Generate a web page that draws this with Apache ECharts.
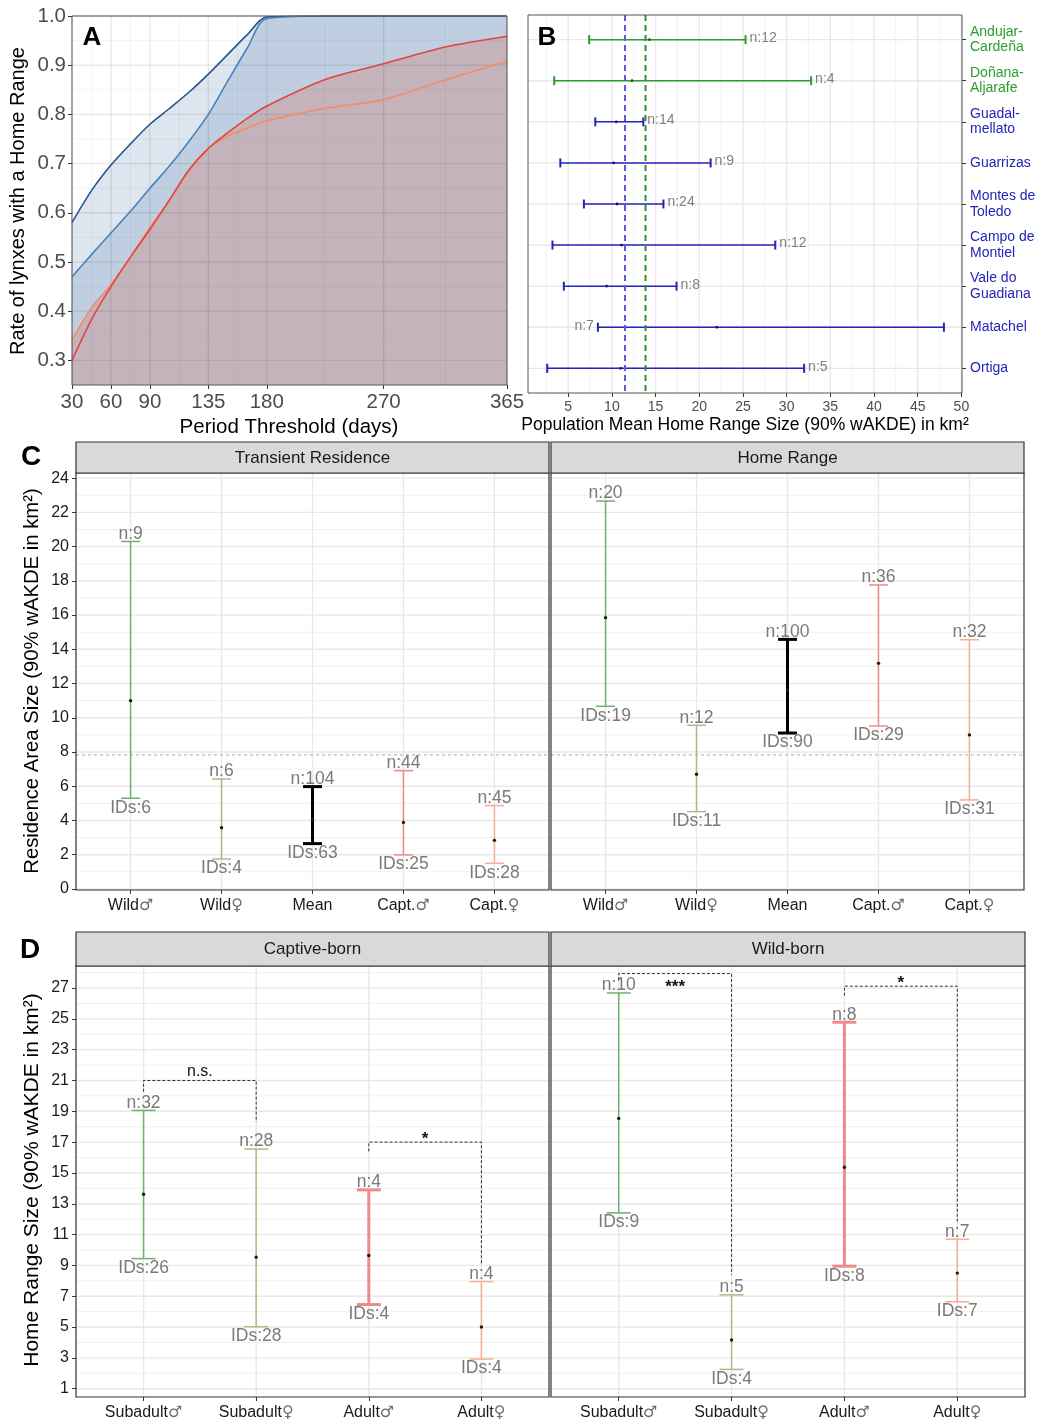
<!DOCTYPE html>
<html>
<head>
<meta charset="utf-8">
<script src="https://cdn.jsdelivr.net/npm/echarts@6/dist/echarts.min.js"></script>
<style>
html,body{margin:0;padding:0;background:#fff;}
#chart{width:1041px;height:1425px;}
</style>
</head>
<body>
<div id="chart"></div>
<script>
// ---------------- DATA ----------------
// Panel A
const aDays      = [30, 45, 60, 75, 90, 105, 120, 135, 150, 165, 180, 225, 270, 317.5, 365];
const aDarkBlue  = [0.58, 0.645, 0.697, 0.74, 0.78, 0.812, 0.845, 0.882, 0.922, 0.962, 0.998, 1.0, 1.0, 1.0, 1.0];
const aSteelBlue = [0.47, 0.515, 0.559, 0.603, 0.65, 0.695, 0.745, 0.80, 0.868, 0.935, 0.995, 1.0, 1.0, 1.0, 1.0];
const aRed       = [0.30, 0.383, 0.45, 0.51, 0.566, 0.626, 0.687, 0.731, 0.763, 0.792, 0.817, 0.871, 0.903, 0.937, 0.959];
const aOrange    = [0.341, 0.407, 0.454, 0.51, 0.57, 0.625, 0.685, 0.731, 0.756, 0.772, 0.787, 0.812, 0.83, 0.87, 0.908];
const aXTicks = [30, 60, 90, 135, 180, 270, 365];
const aXMinor = [45, 75, 112.5, 157.5, 225, 317.5];
const aYTicks = [0.3, 0.4, 0.5, 0.6, 0.7, 0.8, 0.9, 1.0];
const aYMinor = [0.35, 0.45, 0.55, 0.65, 0.75, 0.85, 0.95];

// Panel B
const bPops   = ['Andujar-\nCardeña', 'Doñana-\nAljarafe', 'Guadal-\nmellato', 'Guarrizas', 'Montes de\nToledo', 'Campo de\nMontiel', 'Vale do\nGuadiana', 'Matachel', 'Ortiga'];
const bRegion = ['g', 'g', 'b', 'b', 'b', 'b', 'b', 'b', 'b'];
const bLow    = [7.4, 3.4, 8.1, 4.1, 6.8, 3.2, 4.5, 8.4, 2.6];
const bHigh   = [25.3, 32.8, 13.6, 21.3, 15.9, 28.7, 17.4, 48.0, 32.0];
const bMean   = [14.3, 12.3, 10.5, 10.2, 10.6, 11.1, 9.4, 22.0, 11.0];
const bN      = [12, 4, 14, 9, 24, 12, 8, 7, 5];
const bRefBlue = 11.5;
const bRefGreen = 13.85;
const bXTicks = [5, 10, 15, 20, 25, 30, 35, 40, 45, 50];
const bXMinor = [2.5, 7.5, 12.5, 17.5, 22.5, 27.5, 32.5, 37.5, 42.5, 47.5];

// Panel C
const cCats   = ['Wild♂', 'Wild♀', 'Mean', 'Capt.♂', 'Capt.♀'];
const cTrLow  = [5.3, 1.75, 2.65, 1.99, 1.50];
const cTrHigh = [20.3, 6.42, 5.98, 6.91, 4.87];
const cTrMean = [11.0, 3.58, 4.06, 3.89, 2.84];
const cTrN    = [9, 6, 104, 44, 45];
const cTrIDs  = [6, 4, 63, 25, 28];
const cHrLow  = [10.67, 4.52, 9.11, 9.52, 5.2];
const cHrHigh = [22.66, 9.56, 14.58, 17.76, 14.56];
const cHrMean = [15.85, 6.7, 11.62, 13.18, 9.0];
const cHrN    = [20, 12, 100, 36, 32];
const cHrIDs  = [19, 11, 90, 29, 31];
const cRefLine = 7.83;
const cYTicks = [0, 2, 4, 6, 8, 10, 12, 14, 16, 18, 20, 22, 24];
const cYMinor = [1, 3, 5, 7, 9, 11, 13, 15, 17, 19, 21, 23];

// Panel D
const dCats    = ['Subadult♂', 'Subadult♀', 'Adult♂', 'Adult♀'];
const dCapLow  = [9.44, 5.02, 6.46, 2.92];
const dCapHigh = [19.06, 16.55, 13.9, 7.95];
const dCapMean = [13.62, 9.53, 9.64, 5.0];
const dCapN    = [32, 28, 4, 4];
const dCapIDs  = [26, 28, 4, 4];
const dWildLow  = [12.41, 2.25, 8.95, 6.64];
const dWildHigh = [26.68, 7.09, 24.78, 10.7];
const dWildMean = [18.54, 4.16, 15.37, 8.5];
const dWildN    = [10, 5, 8, 7];
const dWildIDs  = [9, 4, 8, 7];
// [fromCat, toCat, bracketY, leftLegEnd, rightLegEnd, labelY, label]
const dCapBrackets  = [[0, 1, 21.0, 20.27, 18.3, 21.56, 'n.s.'], [2, 3, 17.0, 16.4, 9.0, 17.45, '*']];
const dWildBrackets = [[0, 1, 27.94, 27.5, 8.39, 27.3, '***'], [2, 3, 27.12, 26.5, 11.74, 27.55, '*']];
const dYTicks = [1, 3, 5, 7, 9, 11, 13, 15, 17, 19, 21, 23, 25, 27];
const dYMinor = [2, 4, 6, 8, 10, 12, 14, 16, 18, 20, 22, 24, 26, 28];

// ---------------- STYLE ----------------
const FONT = "'Liberation Sans', Arial, Helvetica, sans-serif";
const GRID_MAJ = '#e8e8e8';
const GRID_MIN = '#efefef';
const catColorsC = ['#6db36d', '#b1ba86', '#000000', '#f08a8a', '#f8ad95'];
const catWidthsC = [1.5, 1.5, 3, 1.5, 1.5];
const catColorsD = ['#6db36d', '#b1ba86', '#f08a8a', '#f8ad95'];
const catWidthsD = [1.5, 1.5, 3, 1.5];
const bColors = { g: '#2e9b2e', b: '#2424b8' };
const LABEL_FONT = '17.5px ' + FONT;

const chart = echarts.init(document.getElementById('chart'), null, { renderer: 'canvas' });

function sexLabel(name) {
  const last = name.slice(-1);
  if (last === '♂' || last === '♀') return name.slice(0, -1) + '{s|' + last + '}';
  return name;
}
const sexRich = { s: { fontFamily: "'DejaVu Sans', sans-serif", fontSize: 16, color: '#6e6e6e' } };

function gridLines(gi, xMaj, xMin, yMaj, yMin, z, majColor, minColor, majW, minW) {
  const data = [];
  xMaj.forEach(v => data.push([v, 0, 1]));
  xMin.forEach(v => data.push([v, 0, 0]));
  yMaj.forEach(v => data.push([v, 1, 1]));
  yMin.forEach(v => data.push([v, 1, 0]));
  return {
    type: 'custom', xAxisIndex: gi, yAxisIndex: gi, z: z, silent: true, animation: false,
    data: data,
    encode: { x: 0 },
    renderItem: function (params, api) {
      const cs = params.coordSys;
      const v = api.value(0), orient = api.value(1), major = api.value(2);
      const style = { stroke: major ? majColor : minColor, lineWidth: major ? majW : minW };
      if (orient === 0) {
        const x = api.coord([v, 0])[0];
        return { type: 'line', shape: { x1: x, y1: cs.y, x2: x, y2: cs.y + cs.height }, style: style };
      } else {
        const y = api.coord([0, v])[1];
        return { type: 'line', shape: { x1: cs.x, y1: y, x2: cs.x + cs.width, y2: y }, style: style };
      }
    }
  };
}

function errorBarsV(gi, low, high, mean, nArr, idArr, colors, widths, capW) {
  return {
    type: 'custom', xAxisIndex: gi, yAxisIndex: gi, z: 5, silent: true, animation: false,
    data: low.map((l, i) => [i, l, high[i], mean[i]]),
    encode: { x: 0, y: [1, 2, 3] },
    renderItem: function (params, api) {
      const i = api.value(0);
      const pL = api.coord([i, api.value(1)]);
      const pH = api.coord([i, api.value(2)]);
      const pM = api.coord([i, api.value(3)]);
      const x = pL[0];
      const st = { stroke: colors[i], lineWidth: widths[i] };
      return {
        type: 'group', children: [
          { type: 'line', shape: { x1: x, y1: pL[1], x2: x, y2: pH[1] }, style: st },
          { type: 'line', shape: { x1: x - capW / 2, y1: pL[1], x2: x + capW / 2, y2: pL[1] }, style: st },
          { type: 'line', shape: { x1: x - capW / 2, y1: pH[1], x2: x + capW / 2, y2: pH[1] }, style: st },
          { type: 'circle', shape: { cx: x, cy: pM[1], r: 1.7 }, style: { fill: '#1a1a1a' } },
          { type: 'text', style: { text: 'n:' + nArr[i], x: x, y: pH[1] + 1.5, align: 'center', verticalAlign: 'bottom', fill: '#7a7a7a', font: LABEL_FONT } },
          { type: 'text', style: { text: 'IDs:' + idArr[i], x: x, y: pL[1] + 0.5, align: 'center', verticalAlign: 'top', fill: '#7a7a7a', font: LABEL_FONT } }
        ]
      };
    }
  };
}

function bracketSeries(gi, br) {
  return {
    type: 'custom', xAxisIndex: gi, yAxisIndex: gi, z: 6, silent: true, animation: false,
    data: br.map((b, i) => [b[0], b[2], i]),
    encode: { x: 0, y: 1 },
    renderItem: function (params, api) {
      const b = br[api.value(2)];
      const pL = api.coord([b[0], b[2]]);
      const pR = api.coord([b[1], b[2]]);
      const yL = api.coord([b[0], b[3]])[1];
      const yR = api.coord([b[1], b[4]])[1];
      const ly = api.coord([b[0], b[5]])[1];
      const isStar = b[6].indexOf('*') >= 0;
      return {
        type: 'group', children: [
          { type: 'polyline', shape: { points: [[pL[0], yL], [pL[0], pL[1]], [pR[0], pR[1]], [pR[0], yR]] },
            style: { stroke: '#333', lineWidth: 1, lineDash: [3, 2], fill: null } },
          { type: 'text', style: { text: b[6], x: (pL[0] + pR[0]) / 2, y: ly + (isStar ? 4 : 0), align: 'center', verticalAlign: 'middle',
            fill: '#111', font: (isStar ? 'bold 17px ' : '16px ') + FONT } }
        ]
      };
    }
  };
}

function hRefLine(gi, val) {
  return {
    type: 'custom', xAxisIndex: gi, yAxisIndex: gi, z: 4, silent: true, animation: false,
    data: [[0, val]], encode: { x: 0, y: 1 },
    renderItem: function (params, api) {
      const cs = params.coordSys;
      const y = api.coord([0, api.value(1)])[1];
      return { type: 'line', shape: { x1: cs.x, y1: y, x2: cs.x + cs.width, y2: y }, style: { stroke: '#a6a6a6', lineWidth: 1, lineDash: [3, 3] } };
    }
  };
}

function vRefLine(gi, val, color) {
  return {
    type: 'custom', xAxisIndex: gi, yAxisIndex: gi, z: 7, silent: true, animation: false,
    data: [[val, 0]], encode: { x: 0, y: 1 },
    renderItem: function (params, api) {
      const cs = params.coordSys;
      const x = api.coord([api.value(0), 0])[0];
      return { type: 'line', shape: { x1: x, y1: cs.y, x2: x, y2: cs.y + cs.height }, style: { stroke: color, lineWidth: 2, lineDash: [6, 4] } };
    }
  };
}

function hErrorBars(gi) {
  return {
    type: 'custom', xAxisIndex: gi, yAxisIndex: gi, z: 5, silent: true, animation: false,
    data: bLow.map((l, i) => [l, bHigh[i], bMean[i], i]),
    encode: { x: [0, 1, 2], y: 3 },
    renderItem: function (params, api) {
      const i = api.value(3);
      const pL = api.coord([api.value(0), i]);
      const pH = api.coord([api.value(1), i]);
      const pM = api.coord([api.value(2), i]);
      const y = pL[1];
      const col = bColors[bRegion[i]];
      const st = { stroke: col, lineWidth: 1.5 };
      const leftLabel = (i === 7);
      return {
        type: 'group', children: [
          { type: 'line', shape: { x1: pL[0], y1: y, x2: pH[0], y2: y }, style: st },
          { type: 'line', shape: { x1: pL[0], y1: y - 4.5, x2: pL[0], y2: y + 4.5 }, style: { stroke: col, lineWidth: 2 } },
          { type: 'line', shape: { x1: pH[0], y1: y - 4.5, x2: pH[0], y2: y + 4.5 }, style: { stroke: col, lineWidth: 2 } },
          { type: 'circle', shape: { cx: pM[0], cy: y, r: 1.4 }, style: { fill: col === bColors.g ? '#1d5e1d' : '#151570' } },
          { type: 'text', style: { text: 'n:' + bN[i], x: leftLabel ? pL[0] - 4 : pH[0] + 4, y: y - 1.5,
            align: leftLabel ? 'right' : 'left', verticalAlign: 'middle', fill: '#808080', font: '14px ' + FONT } }
        ]
      };
    }
  };
}

function noAxisLine() { return { show: false, onZero: false }; }

const tickStyle = { show: true, length: 4, lineStyle: { color: '#333', width: 1 } };

function catXAxis(gi, cats, max) {
  const ticks = cats.map((c, i) => i);
  return { type: 'value', gridIndex: gi, min: -0.6, max: max, axisLine: noAxisLine(), splitLine: { show: false },
    axisTick: Object.assign({ customValues: ticks }, tickStyle),
    axisLabel: { customValues: ticks, formatter: v => sexLabel(cats[Math.round(v)]), rich: sexRich,
      fontSize: 16, color: '#1a1a1a', margin: 8, fontFamily: FONT } };
}

const option = {
  animation: false,
  backgroundColor: '#ffffff',
  textStyle: { fontFamily: FONT },
  grid: [
    { left: 72, top: 16, width: 435, height: 369, show: true, borderColor: '#555', borderWidth: 1, backgroundColor: 'transparent', z: 10 },
    { left: 528, top: 15, width: 434, height: 378, show: true, borderColor: '#555', borderWidth: 1, backgroundColor: 'transparent', z: 10 },
    { left: 76, top: 473, width: 473, height: 417, show: true, borderColor: '#333', borderWidth: 1.2, backgroundColor: 'transparent', z: 10 },
    { left: 551, top: 473, width: 473, height: 417, show: true, borderColor: '#333', borderWidth: 1.2, backgroundColor: 'transparent', z: 10 },
    { left: 76, top: 966, width: 473, height: 431, show: true, borderColor: '#333', borderWidth: 1.2, backgroundColor: 'transparent', z: 10 },
    { left: 551, top: 966, width: 474, height: 431, show: true, borderColor: '#333', borderWidth: 1.2, backgroundColor: 'transparent', z: 10 }
  ],
  xAxis: [
    { type: 'value', gridIndex: 0, min: 30, max: 365, axisLine: noAxisLine(), splitLine: { show: false },
      axisTick: Object.assign({ customValues: aXTicks }, tickStyle),
      axisLabel: { customValues: aXTicks, fontSize: 20.5, color: '#4d4d4d', margin: 7, fontFamily: FONT } },
    { type: 'value', gridIndex: 1, min: 0.4, max: 50.07, axisLine: noAxisLine(), splitLine: { show: false },
      axisTick: Object.assign({ customValues: bXTicks }, tickStyle),
      axisLabel: { customValues: bXTicks, fontSize: 14, color: '#4d4d4d', margin: 7, fontFamily: FONT } },
    catXAxis(2, cCats, 4.6),
    catXAxis(3, cCats, 4.6),
    catXAxis(4, dCats, 3.6),
    catXAxis(5, dCats, 3.6)
  ],
  yAxis: [
    { type: 'value', gridIndex: 0, min: 0.25, max: 1.0, axisLine: noAxisLine(), splitLine: { show: false },
      axisTick: Object.assign({ customValues: aYTicks }, tickStyle),
      axisLabel: { customValues: aYTicks, formatter: v => Number(v).toFixed(1), fontSize: 20.5, color: '#4d4d4d', margin: 6, fontFamily: FONT } },
    { type: 'value', gridIndex: 1, min: -0.6, max: 8.6, inverse: true, position: 'right', axisLine: noAxisLine(), splitLine: { show: false },
      axisTick: Object.assign({ customValues: [0, 1, 2, 3, 4, 5, 6, 7, 8] }, tickStyle),
      axisLabel: { customValues: [0, 1, 2, 3, 4, 5, 6, 7, 8], formatter: v => bPops[Math.round(v)],
        color: v => bColors[bRegion[Math.round(Number(v))]], fontSize: 14, lineHeight: 15.5, align: 'left', margin: 8, fontFamily: FONT } },
    { type: 'value', gridIndex: 2, min: -0.06, max: 24.3, axisLine: noAxisLine(), splitLine: { show: false },
      axisTick: Object.assign({ customValues: cYTicks }, tickStyle),
      axisLabel: { customValues: cYTicks, fontSize: 16, color: '#1a1a1a', margin: 7, fontFamily: FONT } },
    { type: 'value', gridIndex: 3, min: -0.06, max: 24.3, axisLine: noAxisLine(), splitLine: { show: false },
      axisTick: { show: false }, axisLabel: { show: false } },
    { type: 'value', gridIndex: 4, min: 0.46, max: 28.43, axisLine: noAxisLine(), splitLine: { show: false },
      axisTick: Object.assign({ customValues: dYTicks }, tickStyle),
      axisLabel: { customValues: dYTicks, fontSize: 16, color: '#1a1a1a', margin: 7, fontFamily: FONT } },
    { type: 'value', gridIndex: 5, min: 0.46, max: 28.43, axisLine: noAxisLine(), splitLine: { show: false },
      axisTick: { show: false }, axisLabel: { show: false } }
  ],
  series: [],
  graphic: []
};

// Panel A series
function aPairs(vals) { return aDays.map((d, i) => [d, vals[i]]); }
const aSmooth = 0.3;
const aAreas = [[aDarkBlue, '#dde5ef'], [aSteelBlue, '#bfcfe1'], [aOrange, '#c5b3bc'], [aRed, '#c5b3bc']];
aAreas.forEach(a => option.series.push({
  type: 'line', xAxisIndex: 0, yAxisIndex: 0, data: aPairs(a[0]), smooth: aSmooth, showSymbol: false, symbol: 'none',
  lineStyle: { width: 0, opacity: 0 }, areaStyle: { color: a[1], opacity: 1, origin: 'start' }, z: 1, silent: true
}));
option.series.push(gridLines(0, aXTicks, aXMinor, aYTicks, aYMinor, 2, 'rgba(0,0,0,0.085)', 'rgba(0,0,0,0.06)', 1.4, 0.8));
const aLines = [[aDarkBlue, '#24558f'], [aSteelBlue, '#4a80bb'], [aOrange, '#f58c62'], [aRed, '#e2443f']];
aLines.forEach(a => option.series.push({
  type: 'line', xAxisIndex: 0, yAxisIndex: 0, data: aPairs(a[0]), smooth: aSmooth, showSymbol: false, symbol: 'none',
  lineStyle: { width: 1.6, color: a[1] }, z: 3, silent: true
}));

// Panel B
option.series.push(gridLines(1, bXTicks, bXMinor, [0, 1, 2, 3, 4, 5, 6, 7, 8], [], 0, GRID_MAJ, GRID_MIN, 1.3, 0.8));
option.series.push(hErrorBars(1));
option.series.push(vRefLine(1, bRefBlue, '#5a5ae0'));
option.series.push(vRefLine(1, bRefGreen, '#2f902f'));

// Panel C
option.series.push(gridLines(2, [0, 1, 2, 3, 4], [], cYTicks, cYMinor, 0, GRID_MAJ, GRID_MIN, 1.4, 1.0));
option.series.push(gridLines(3, [0, 1, 2, 3, 4], [], cYTicks, cYMinor, 0, GRID_MAJ, GRID_MIN, 1.4, 1.0));
option.series.push(hRefLine(2, cRefLine));
option.series.push(hRefLine(3, cRefLine));
option.series.push(errorBarsV(2, cTrLow, cTrHigh, cTrMean, cTrN, cTrIDs, catColorsC, catWidthsC, 19));
option.series.push(errorBarsV(3, cHrLow, cHrHigh, cHrMean, cHrN, cHrIDs, catColorsC, catWidthsC, 19));

// Panel D
option.series.push(gridLines(4, [0, 1, 2, 3], [], dYTicks, dYMinor, 0, GRID_MAJ, GRID_MIN, 1.4, 1.0));
option.series.push(gridLines(5, [0, 1, 2, 3], [], dYTicks, dYMinor, 0, GRID_MAJ, GRID_MIN, 1.4, 1.0));
option.series.push(errorBarsV(4, dCapLow, dCapHigh, dCapMean, dCapN, dCapIDs, catColorsD, catWidthsD, 24));
option.series.push(errorBarsV(5, dWildLow, dWildHigh, dWildMean, dWildN, dWildIDs, catColorsD, catWidthsD, 24));
option.series.push(bracketSeries(4, dCapBrackets));
option.series.push(bracketSeries(5, dWildBrackets));

// Graphics: strips, titles, letters
function gText(text, x, y, font, fill, rot) {
  return { type: 'text', x: x, y: y, rotation: rot || 0, z: 20,
    style: { text: text, font: font, fill: fill, align: 'center', verticalAlign: 'middle', textAlign: 'center', textVerticalAlign: 'middle' } };
}
function strip(x, y, w, h, label) {
  return [
    { type: 'rect', shape: { x: x, y: y, width: w, height: h }, style: { fill: '#d9d9d9', stroke: '#333', lineWidth: 1.2 }, z: 15 },
    gText(label, x + w / 2, y + h / 2 + 0.5, '17px ' + FONT, '#1a1a1a')
  ];
}
option.graphic = [].concat(
  strip(76, 442, 473, 31, 'Transient Residence'),
  strip(551, 442, 473, 31, 'Home Range'),
  strip(76, 932, 473, 34, 'Captive-born'),
  strip(551, 932, 474, 34, 'Wild-born'),
  [
    gText('A', 92, 38, 'bold 26px ' + FONT, '#000'),
    gText('B', 547, 38, 'bold 26px ' + FONT, '#000'),
    gText('C', 31, 457, 'bold 28px ' + FONT, '#000'),
    gText('D', 30, 950, 'bold 28px ' + FONT, '#000'),
    gText('Period Threshold (days)', 289, 427, '20.5px ' + FONT, '#000'),
    gText('Rate of lynxes with a Home Range', 18, 201, '20px ' + FONT, '#000', Math.PI / 2),
    gText('Population Mean Home Range Size (90% wAKDE) in km²', 745, 425, '17.5px ' + FONT, '#000'),
    gText('Residence Area Size (90% wAKDE in km²)', 32, 681, '20.3px ' + FONT, '#000', Math.PI / 2),
    gText('Home Range Size (90% wAKDE in km²)', 32, 1180, '21px ' + FONT, '#000', Math.PI / 2)
  ]
);

chart.setOption(option);
</script>
</body>
</html>
